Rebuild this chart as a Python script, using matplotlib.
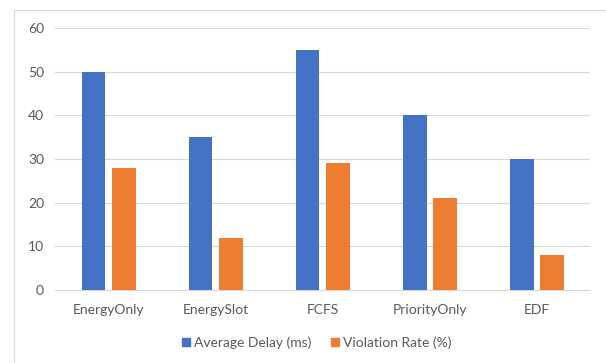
import numpy as np
import matplotlib.pyplot as plt
from matplotlib.lines import Line2D

plt.rcParams['font.family'] = ['Lato', 'DejaVu Sans']

categories = ['EnergyOnly', 'EnergySlot', 'FCFS', 'PriorityOnly', 'EDF']
avg_delay = [50, 35, 55, 40, 30]
violation_rate = [28, 12, 29, 21, 8]
series_names = ['Average Delay (ms)', 'Violation Rate (%)']

BLUE = '#4472C4'
ORANGE = '#ED7D31'
GRID = '#d9d9d9'
TEXT = '#595959'

fig = plt.figure(figsize=(6.06, 3.63), dpi=100)
ax = fig.add_axes([0.091, 0.201, 0.883, 0.722])

# chart frame (left and top edges only are visible)
fig.add_artist(Line2D([14 / 606, 14 / 606], [0, 1 - 10 / 363], color=GRID, lw=0.8))
fig.add_artist(Line2D([14 / 606, 1], [1 - 10 / 363, 1 - 10 / 363], color=GRID, lw=0.8))

x = np.arange(len(categories))
w = 0.222
gap = 0.06
ax.bar(x - (w + gap) / 2, avg_delay, w, color=BLUE, label=series_names[0], zorder=3)
ax.bar(x + (w + gap) / 2, violation_rate, w, color=ORANGE, label=series_names[1], zorder=3)

ax.set_xlim(-0.5, len(categories) - 0.5)
ax.set_ylim(0, 60)
ax.set_yticks(range(0, 61, 10))
ax.set_xticks(x)
ax.set_xticklabels(categories)
ax.tick_params(axis='both', length=0, labelsize=10, labelcolor=TEXT)
ax.tick_params(axis='x', pad=10)
ax.tick_params(axis='y', pad=8)
ax.grid(axis='y', color=GRID, lw=0.8, zorder=0)
for s in ['top', 'right', 'left']:
    ax.spines[s].set_visible(False)
ax.spines['bottom'].set_color(GRID)
ax.spines['bottom'].set_linewidth(0.8)

handles = [Line2D([], [], marker='s', ls='', color=c, markersize=6) for c in (BLUE, ORANGE)]
leg = fig.legend(handles, series_names, loc='center', bbox_to_anchor=(0.52, 0.055),
                 ncol=2, frameon=False, fontsize=10, handletextpad=0.1, columnspacing=1.2,
                 handlelength=1.0)
for t in leg.get_texts():
    t.set_color(TEXT)

fig.savefig('out.png', dpi=100, facecolor='white')
